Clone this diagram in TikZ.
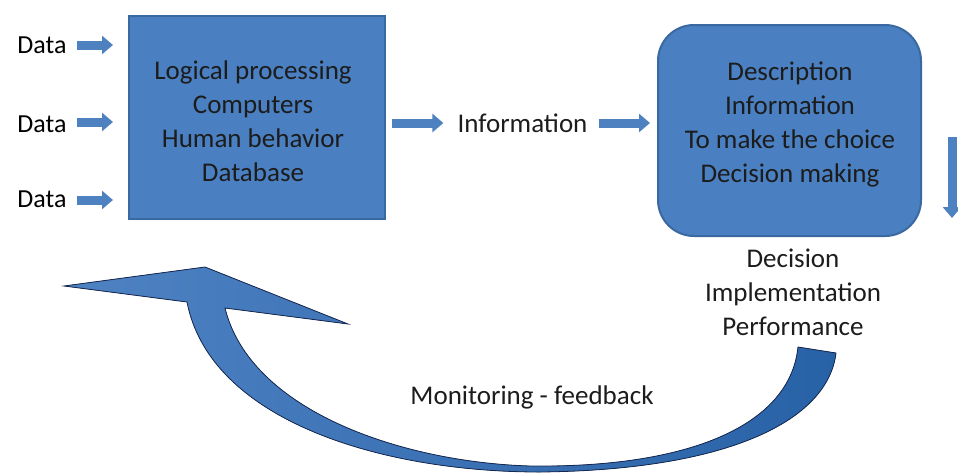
\documentclass[tikz,border=0pt]{standalone}
\usepackage{fontspec}
\setmainfont{Carlito}
\usetikzlibrary{arrows.meta}
\definecolor{boxblue}{RGB}{74,128,193}
\definecolor{boxedge}{RGB}{58,104,160}
\definecolor{arrblue}{RGB}{78,129,192}
\definecolor{navy}{RGB}{22,40,80}
\definecolor{lightarc}{RGB}{78,130,195}
\definecolor{darkarc}{RGB}{40,98,166}
\definecolor{txt}{RGB}{28,28,28}
\tikzset{
  bigtext/.style={font=\fontsize{27}{34}\selectfont, text=txt, align=center},
  datatext/.style={font=\fontsize{26}{32}\selectfont, text=black, inner sep=0pt},
  procbox/.style={draw=boxedge, line width=2pt, fill=boxblue, minimum width=256pt, minimum height=203pt},
  decbox/.style={draw=boxedge, line width=2pt, fill=boxblue, rounded corners=36pt, minimum width=263pt, minimum height=211pt},
  blockarrow/.style={draw=arrblue, line width=9pt, -{Triangle[width=18pt,length=11pt]}},
  curvearrow/.style={left color=lightarc, right color=darkarc, draw=navy, line width=0.8pt, line join=miter}
}
\begin{document}
\begin{tikzpicture}[x=1pt,y=-1pt]
\useasboundingbox (0,0) rectangle (958,472);
\clip (0,0) rectangle (958,472);
% boxes
\node[procbox] (lbox) at (257,117.5) {};
\node[bigtext] (ltext) at (253,121) {Logical processing\\Computers\\Human behavior\\Database};
\node[decbox] (rbox) at (789.5,130.5) {};
\node[bigtext] (rtext) at (790,124) {Description\\Information\\To make the choice\\Decision making};
% data labels
\node[datatext] (d1) at (42,45) {Data};
\node[datatext] (d2) at (42,124) {Data};
\node[datatext] (d3) at (42,199) {Data};
\draw[blockarrow, shorten >=15pt] ([xshift=10pt]d1.east |- 0,45) -- (lbox.west |- 0,45);
\draw[blockarrow, shorten >=15pt] ([xshift=10pt]d2.east |- 0,122) -- (lbox.west |- 0,122);
\draw[blockarrow, shorten >=15pt] ([xshift=10pt]d3.east |- 0,200) -- (lbox.west |- 0,200);
% information
\node[bigtext, inner sep=0pt] (info) at (522.5,123) {Information};
\draw[blockarrow, shorten <=6pt, shorten >=14pt] (lbox.east |- 0,123) -- (info.west |- 0,123);
\draw[blockarrow, shorten <=11pt, shorten >=7pt] (info.east |- 0,123) -- (rbox.west |- 0,123);
% down arrow
\coordinate (dtop) at (952,137);
\coordinate (dbot) at (952,218);
\draw[blockarrow] (dtop) -- (dbot);
% decision labels
\node[bigtext] (dec) at (793,292) {Decision\\Implementation\\Performance};
% curved feedback arrow
\filldraw[curvearrow] (798,347) -- (836,353)
  .. controls (828,420) and (730,470) .. (540,472)
  .. controls (380,472) and (210,420) .. (187,302)
  -- (64,286) -- (205,267) -- (348,324) -- (225,308)
  .. controls (250,410) and (400,462) .. (530,466)
  .. controls (690,468) and (790,425) .. (798,347)
  -- cycle;
\node[bigtext] (mon) at (532,397) {Monitoring - feedback};
\end{tikzpicture}
\end{document}
